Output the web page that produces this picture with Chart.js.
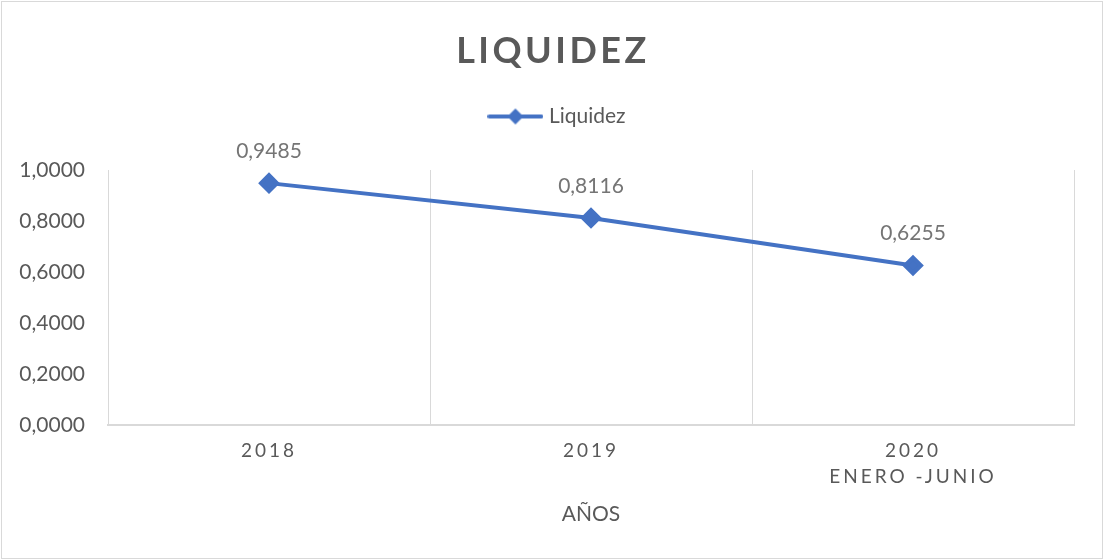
<!DOCTYPE html>
<html>
<head>
<meta charset="utf-8">
<script src="https://cdn.jsdelivr.net/npm/chart.js@4.4.1/dist/chart.umd.min.js"></script>
<style>
  html, body { margin: 0; padding: 0; background: #fff; }
  #wrap { position: absolute; left: 1px; top: 1px; width: 1100px; height: 556px; border: 1px solid #d9d9d9; }
  canvas { display: block; }
</style>
</head>
<body>
<div id="wrap"><canvas id="liquidezChart" width="1100" height="556"></canvas></div>
<script>
const chartTitle = 'LIQUIDEZ';
const seriesName = 'Liquidez';
const categories = [['2018'], ['2019'], ['2020', 'ENERO -JUNIO']];
const liquidezValues = [0.9485, 0.8116, 0.6255];
const axisTitleX = 'AÑOS';

const BLUE = '#4472C4';
const TEXT = '#595959';
const FONT = 'Lato, "Open Sans", sans-serif';

const fmt = v => Number(v).toFixed(4).replace('.', ',');

// category axis whose tick labels get letter spacing, like the Excel original
class SpacedCategoryScale extends Chart.CategoryScale {
  drawLabels(chartArea) {
    const ctx = this.ctx;
    ctx.save();
    ctx.letterSpacing = '3px';
    super.drawLabels(chartArea);
    ctx.restore();
  }
}
SpacedCategoryScale.id = 'spacedCategory';
SpacedCategoryScale.defaults = Chart.CategoryScale.defaults;
Chart.register(SpacedCategoryScale);

// legend symbol: line with a diamond in the middle
const legendIcon = document.createElement('canvas');
legendIcon.width = 56;
legendIcon.height = 18;
(() => {
  const c = legendIcon.getContext('2d');
  c.strokeStyle = BLUE;
  c.lineWidth = 4;
  c.lineCap = 'round';
  c.beginPath();
  c.moveTo(2, 9);
  c.lineTo(54, 9);
  c.stroke();
  c.fillStyle = BLUE;
  c.beginPath();
  c.moveTo(28, 1);
  c.lineTo(36, 9);
  c.lineTo(28, 17);
  c.lineTo(20, 9);
  c.closePath();
  c.fill();
})();

const titlePlugin = {
  id: 'spacedTitle',
  afterDraw(chart) {
    const ctx = chart.ctx;
    ctx.save();
    ctx.font = 'bold 36px ' + FONT;
    ctx.letterSpacing = '3.5px';
    ctx.fillStyle = TEXT;
    ctx.textAlign = 'center';
    ctx.textBaseline = 'alphabetic';
    ctx.fillText(chartTitle, 551, 61);
    ctx.restore();
  }
};

// the legend box reserves the gap above the plot; move the legend itself
// back up under the title and to the middle (the y axis eats left padding)
const legendShift = {
  id: 'legendShift',
  afterLayout(chart) {
    const lg = chart.legend;
    lg.left += 16;
    lg.right += 16;
    lg.top -= 33;
    lg.bottom -= 33;
  }
};

const valueLabels = {
  id: 'valueLabels',
  afterDatasetsDraw(chart) {
    const ctx = chart.ctx;
    const meta = chart.getDatasetMeta(0);
    ctx.save();
    ctx.font = '21px ' + FONT;
    ctx.fillStyle = '#757575';
    ctx.textAlign = 'center';
    ctx.textBaseline = 'middle';
    meta.data.forEach((pt, i) => {
      ctx.fillText(fmt(chart.data.datasets[0].data[i]), pt.x, pt.y - 32);
    });
    ctx.restore();
  }
};

new Chart(document.getElementById('liquidezChart'), {
  type: 'line',
  data: {
    labels: categories,
    datasets: [{
      label: seriesName,
      data: liquidezValues,
      borderColor: BLUE,
      backgroundColor: BLUE,
      borderWidth: 4,
      pointStyle: 'rectRot',
      pointRadius: 8,
      pointHoverRadius: 8,
      tension: 0
    }]
  },
  options: {
    responsive: false,
    animation: false,
    events: [],
    layout: { padding: { top: 94, left: 10, right: 28, bottom: 31 } },
    plugins: {
      title: { display: false },
      tooltip: { enabled: false },
      legend: {
        position: 'top',
        labels: {
          usePointStyle: true,
          pointStyleWidth: 46,
          color: TEXT,
          font: { family: FONT, size: 21 },
          padding: 43,
          generateLabels: chart => [{
            text: seriesName,
            pointStyle: legendIcon,
            fillStyle: BLUE,
            strokeStyle: BLUE,
            lineWidth: 0,
            fontColor: TEXT,
            datasetIndex: 0
          }]
        }
      }
    },
    scales: {
      x: {
        type: 'spacedCategory',
        offset: true,
        grid: { display: true, offset: true, color: '#d9d9d9', lineWidth: 1, drawTicks: false },
        border: { display: true, color: '#d9d9d9', width: 2 },
        ticks: {
          color: TEXT,
          font: { family: FONT, size: 19, lineHeight: 1.37 },
          padding: 13,
          maxRotation: 0,
          autoSkip: false
        },
        title: {
          display: true,
          text: axisTitleX,
          color: TEXT,
          font: { family: FONT, size: 21 },
          padding: 0
        },
        afterFit: scale => { scale.height = 102; }
      },
      y: {
        min: 0,
        max: 1,
        grid: { display: false, drawTicks: false },
        border: { display: false },
        ticks: {
          stepSize: 0.2,
          color: TEXT,
          font: { family: FONT, size: 21 },
          padding: 23,
          callback: v => fmt(v)
        },
        afterFit: scale => { scale.width = 96; }
      }
    }
  },
  plugins: [titlePlugin, legendShift, valueLabels]
});
</script>
</body>
</html>
